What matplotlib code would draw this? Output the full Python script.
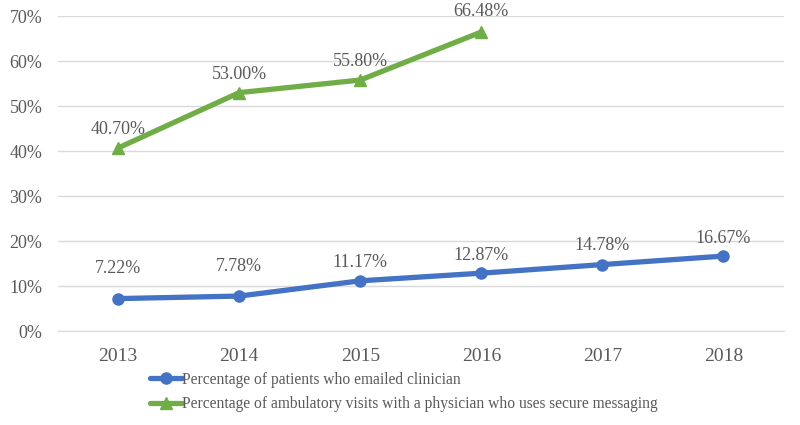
import matplotlib
matplotlib.use("Agg")
import matplotlib.pyplot as plt
from matplotlib.ticker import PercentFormatter

years = ["2013", "2014", "2015", "2016", "2017", "2018"]
emailed = [7.22, 7.78, 11.17, 12.87, 14.78, 16.67]
secure_years = ["2013", "2014", "2015", "2016"]
secure = [40.70, 53.00, 55.80, 66.48]

label_blue = "Percentage of patients who emailed clinician"
label_green = "Percentage of ambulatory visits with a physician who uses secure messaging"

# label offsets (points) above each marker
off_blue = [21.5, 21.5, 13, 13, 13.5, 13]
off_green = [13, 13, 13.5, 15]

blue = "#4472C4"
green = "#70AD47"
txt = "#595959"

plt.rcParams["font.family"] = ["Liberation Serif", "DejaVu Serif"]

fig = plt.figure(figsize=(8, 4.25), dpi=100)
ax = fig.add_axes([0.072, 0.221, 0.908, 0.741])

xb = [years.index(y) for y in years]
xg = [years.index(y) for y in secure_years]
ax.plot(xb, emailed, color=blue, lw=3.8, marker="o", ms=8, label=label_blue, solid_capstyle="round")
ax.plot(xg, secure, color=green, lw=3.8, marker="^", ms=8, label=label_green, solid_capstyle="round")

for x, v, o in zip(xb, emailed, off_blue):
    ax.annotate(f"{v:.2f}%", (x, v), xytext=(0, o), textcoords="offset points",
                ha="center", va="center", fontsize=13, color=txt)
for x, v, o in zip(xg, secure, off_green):
    ax.annotate(f"{v:.2f}%", (x, v), xytext=(0, o), textcoords="offset points",
                ha="center", va="center", fontsize=13, color=txt)

ax.set_xlim(-0.5, len(years) - 0.5)
ax.set_ylim(0, 70)
ax.set_yticks(range(0, 71, 10))
ax.yaxis.set_major_formatter(PercentFormatter(decimals=0))
ax.set_xticks(range(len(years)))
ax.set_xticklabels(years)
ax.grid(axis="y", color="#d9d9d9", lw=1)
ax.set_axisbelow(True)
for s in ["top", "right", "left"]:
    ax.spines[s].set_visible(False)
ax.spines["bottom"].set_color("#d9d9d9")
ax.tick_params(axis="x", length=0, labelsize=14, colors=txt, pad=12)
ax.tick_params(axis="y", length=0, labelsize=13, colors=txt, pad=11)

leg = fig.legend(loc="upper left", bbox_to_anchor=(0.188, 0.125), frameon=False,
                 fontsize=11.2, handlelength=2.0, handletextpad=0.0, labelspacing=0.55,
                 borderpad=0, borderaxespad=0)
for t in leg.get_texts():
    t.set_color(txt)

fig.savefig("out.png", dpi=100)
